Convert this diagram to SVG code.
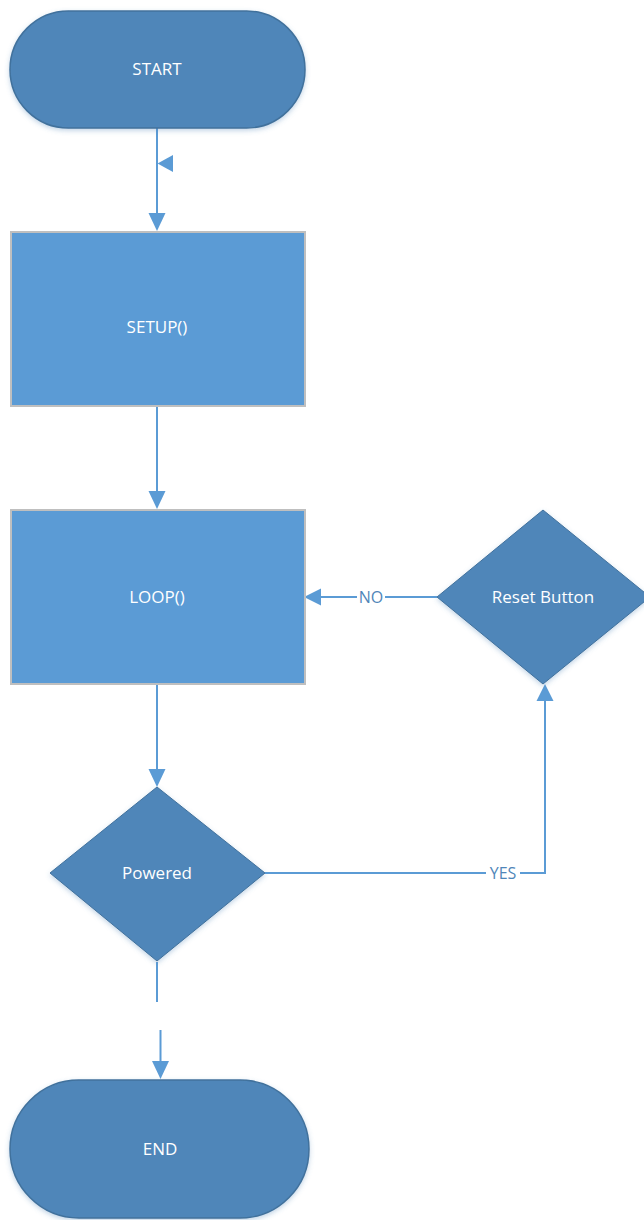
<svg xmlns="http://www.w3.org/2000/svg" width="644" height="1220" viewBox="0 0 644 1220">
<defs>
<style>
.term{fill:#4f86b9;stroke:#41719c;stroke-width:1.5}
.proc{fill:#5b9bd5;stroke:#bfbfbf;stroke-width:2}
.dec{fill:#4f86b9;stroke:#41719c;stroke-width:1}
.lbl{font-family:"Open Sans","Noto Sans",sans-serif;font-size:17px;fill:#ffffff;text-anchor:middle;dominant-baseline:central}
.elbl{font-family:"Open Sans","Noto Sans",sans-serif;font-size:16px;fill:#4f86b9;text-anchor:middle;dominant-baseline:central}
.conn{fill:none;stroke:#5b9bd5;stroke-width:2}
.head{fill:#5b9bd5}
</style>
<filter id="sh" x="-10%" y="-10%" width="120%" height="125%">
<feDropShadow dx="0" dy="2" stdDeviation="2.5" flood-color="#4f86b9" flood-opacity="0.35"/>
</filter>
</defs>

<g id="connectors">
<line class="conn" x1="157" y1="128" x2="157" y2="214"/>
<path class="head" d="M148.5,213 L165.5,213 L157,231 Z"/>
<path class="head" d="M157.5,163.5 L173,155 L173,172 Z"/>

<line class="conn" x1="157" y1="407" x2="157" y2="492"/>
<path class="head" d="M148.5,491 L165.5,491 L157,509 Z"/>

<line class="conn" x1="157" y1="685" x2="157" y2="770"/>
<path class="head" d="M148.5,769 L165.5,769 L157,787 Z"/>

<line class="conn" x1="437" y1="597" x2="320" y2="597"/>
<path class="head" d="M321,588.5 L321,605.5 L304,597 Z"/>
<rect x="357" y="588" width="28" height="18" fill="#ffffff"/>
<text class="elbl" x="371" y="597">NO</text>

<polyline class="conn" points="265,873 545,873 545,700"/>
<path class="head" d="M536.5,701 L553.5,701 L545,684 Z"/>
<rect x="486" y="864" width="34" height="18" fill="#ffffff"/>
<text class="elbl" x="503" y="873">YES</text>

<line class="conn" x1="157" y1="962" x2="157" y2="1002"/>
<line class="conn" x1="160.5" y1="1030" x2="160.5" y2="1062"/>
<path class="head" d="M152,1061 L169,1061 L160.5,1079 Z"/>
</g>

<g id="start">
<rect class="term" x="10" y="11" width="295" height="117" rx="58.5" ry="58.5" filter="url(#sh)"/>
<text class="lbl" x="157" y="68">START</text>
</g>

<g id="setup">
<rect class="proc" x="11" y="232" width="294" height="174"/>
<text class="lbl" x="157" y="326">SETUP()</text>
</g>

<g id="loop">
<rect class="proc" x="11" y="510" width="294" height="174"/>
<text class="lbl" x="157" y="596">LOOP()</text>
</g>

<g id="reset">
<polygon class="dec" points="543,510 650,597 543,684 437,597" filter="url(#sh)"/>
<text class="lbl" x="543" y="596">Reset Button</text>
</g>

<g id="powered">
<polygon class="dec" points="157,787 265,873 157,961 50,873" filter="url(#sh)"/>
<text class="lbl" x="157" y="872">Powered</text>
</g>

<g id="end">
<rect class="term" x="10" y="1080" width="299" height="138" rx="69" ry="69" filter="url(#sh)"/>
<text class="lbl" x="160" y="1148">END</text>
</g>
</svg>
